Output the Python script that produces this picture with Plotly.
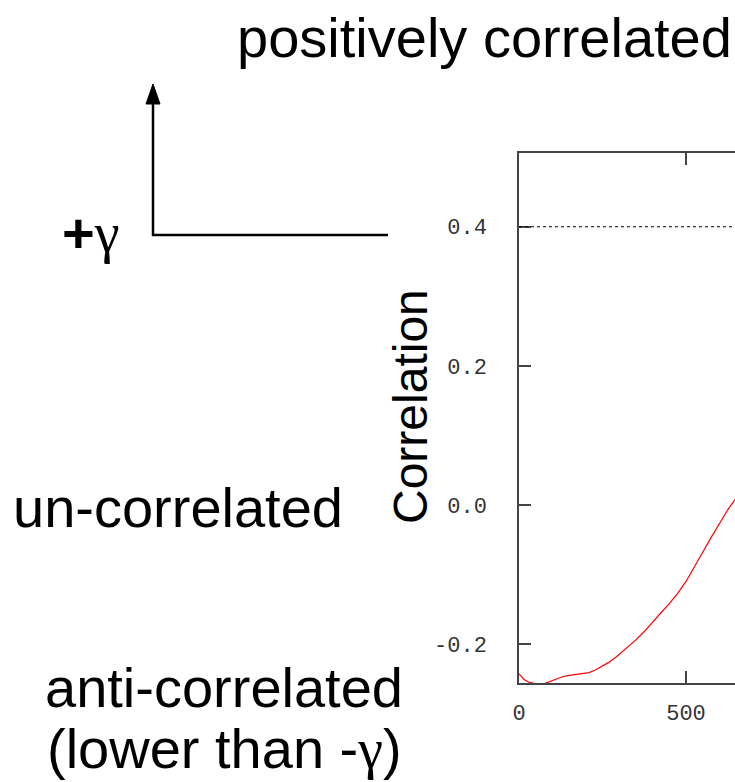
import plotly.graph_objects as go

# Lag (sample offset) and the correlation coefficient at each lag
lag = [0, 15, 30, 45, 60, 75, 90, 110, 130, 150, 170, 190, 210, 230, 250,
       270, 290, 310, 330, 350, 375, 400, 425, 450, 475, 500, 525, 550,
       575, 600, 625, 650]
correlation = [-0.243, -0.251, -0.255, -0.257, -0.258, -0.257, -0.254,
               -0.250, -0.247, -0.245, -0.244, -0.243, -0.241, -0.237,
               -0.232, -0.226, -0.219, -0.211, -0.203, -0.194, -0.182,
               -0.168, -0.155, -0.142, -0.127, -0.110, -0.090, -0.068,
               -0.047, -0.026, -0.007, 0.010]

gamma = 0.4                      # correlation threshold
y_ticks = [-0.2, 0.0, 0.2, 0.4]
y_tick_text = ["-0.2", "0.0", "0.2", "0.4"]
x_ticks = [0, 500]
x_tick_text = ["0", "500"]

W, H = 735, 782
L, R, T, B = 519, 735, 153, 683   # plot area in pixels


def px(x):
    return (x - L) / (R - L)


def py(y):
    return (B - y) / (B - T)


fig = go.Figure()
fig.add_trace(go.Scatter(x=lag, y=correlation, mode="lines",
                         line=dict(color="#ff0000", width=1.2),
                         showlegend=False, hoverinfo="skip"))

# threshold line at +gamma
fig.add_hline(y=gamma, line=dict(color="black", width=1.2, dash="dot"))

tick_font = dict(family="Liberation Mono, DejaVu Sans Mono, monospace",
                 size=22, color="#333333")
fig.update_xaxes(range=[0, 646.7], tickvals=x_ticks, ticktext=x_tick_text,
                 ticks="inside", ticklen=12, tickwidth=1.5, tickcolor="#444",
                 showline=True, linecolor="#444", linewidth=1.5,
                 mirror="ticks", showgrid=False, zeroline=False,
                 tickfont=tick_font, ticklabelstandoff=9)
fig.update_yaxes(range=[-0.256, 0.506], tickvals=y_ticks, ticktext=y_tick_text,
                 ticks="inside", ticklen=12, tickwidth=1.5, tickcolor="#444",
                 showline=True, linecolor="#444", linewidth=1.5,
                 mirror=False, showgrid=False, zeroline=False,
                 tickfont=tick_font, ticklabelstandoff=26)

big = dict(family="Liberation Sans, Arial, sans-serif", size=56, color="black")
serif = "font-family:'Liberation Serif', 'Times New Roman', serif"

annotations = [
    dict(text="positively correlated", x=px(484), y=py(37)),
    dict(text="un-correlated", x=px(178), y=py(507)),
    dict(text="anti-correlated", x=px(224), y=py(687)),
    dict(text=f"(lower than -<span style=\"{serif}\">γ</span>)", x=px(224), y=py(748)),
    dict(text=f"<b>+</b><span style=\"{serif}\">γ</span>", x=px(90), y=py(232)),
]
for a in annotations:
    fig.add_annotation(xref="paper", yref="paper", showarrow=False,
                       xanchor="center", yanchor="middle", font=big, **a)

fig.add_annotation(text="Correlation", xref="paper", yref="paper",
                   x=px(410), y=py(407), textangle=-90, showarrow=False,
                   xanchor="center", yanchor="middle",
                   font=dict(family="Liberation Sans, Arial, sans-serif",
                             size=48, color="black"))

# axis sketch: upward arrow and horizontal baseline
sketch = dict(color="black", width=2.5)
fig.add_shape(type="line", xref="paper", yref="paper",
              x0=px(153), y0=py(236), x1=px(153), y1=py(100), line=sketch)
fig.add_shape(type="line", xref="paper", yref="paper",
              x0=px(152), y0=py(235), x1=px(388), y1=py(235), line=sketch)
fig.add_shape(type="path", xref="paper", yref="paper",
              path=f"M {px(153)} {py(84)} L {px(146)} {py(104)} L {px(160)} {py(104)} Z",
              fillcolor="black", line=dict(color="black", width=1))

fig.update_layout(width=W, height=H, margin=dict(l=L, r=W - R, t=T, b=H - B),
                  paper_bgcolor="white", plot_bgcolor="white")

fig.write_html("out.html")
